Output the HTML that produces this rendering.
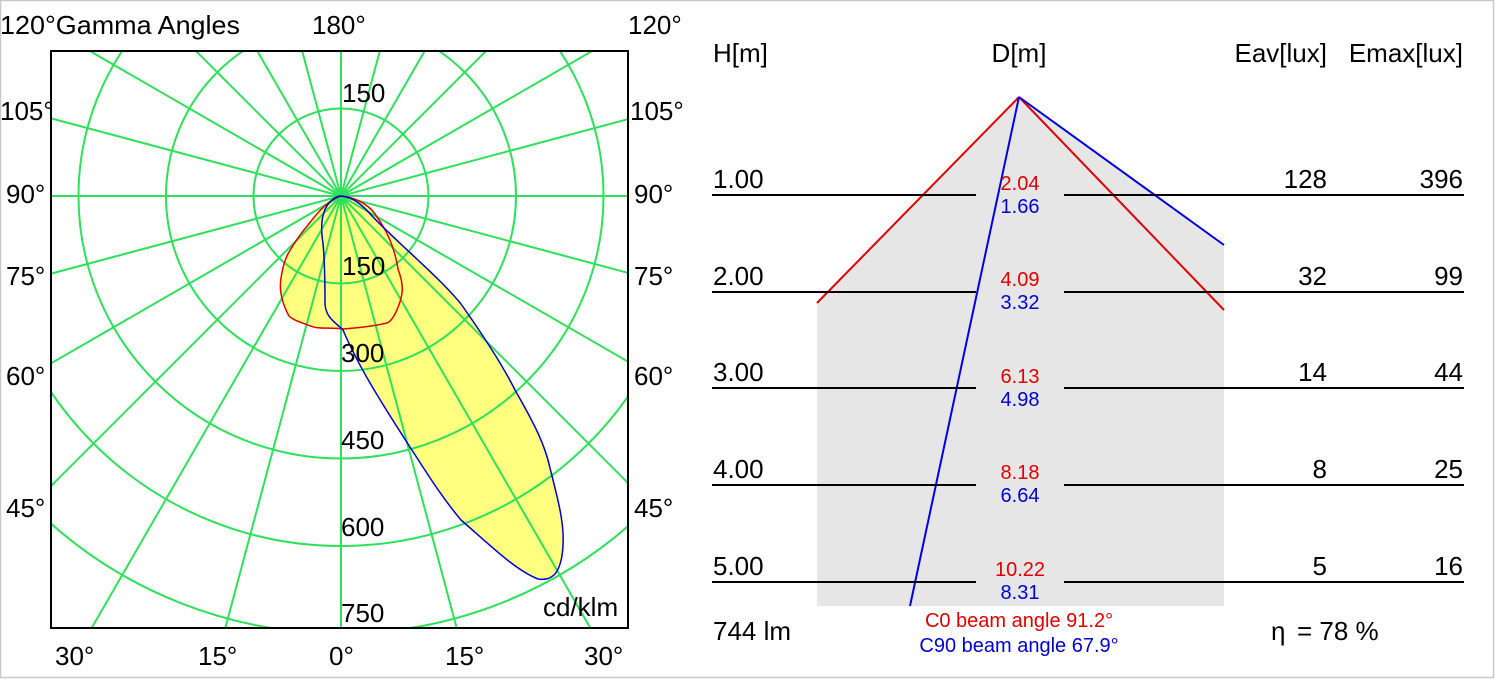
<!DOCTYPE html>
<html><head><meta charset="utf-8"><style>
html,body{margin:0;padding:0;background:#fff;overflow:hidden;width:1496px;height:680px}
svg{display:block}
text{font-family:"Liberation Sans",Arial,sans-serif}
</style></head><body>
<svg width="1496" height="680" viewBox="0 0 1496 680" xmlns="http://www.w3.org/2000/svg">
<rect x="0.5" y="0.5" width="1493" height="677" fill="#fff" stroke="#c8c8c8" stroke-width="1.5"/>
<defs><clipPath id="c"><rect x="51" y="51" width="577" height="577"/></clipPath></defs>
<g clip-path="url(#c)">
<path d="M341,196 C360,198 372,208 377,217 C388,232 395,250 398,269 C404,285 404,295 396,312 C393,318 390,322 387,323 C370,327 355,328 343,329 C330,327 318,330 308,325 C300,322 293,320 289,316 C282,303 279,290 281,278 C283,265 286,257 289,252 C296,240 302,232 308,225 C318,212 328,200 341,196 Z" fill="#ffff80"/>
<path d="M341,196 C355,197 365,208 373,217 C400,245 440,278 461,304 C490,345 505,370 515,390 C535,425 545,445 550,468 C558,500 562,515 563,533 C564,555 560,568 555,574 C550,579 545,580 538,579 C515,570 490,545 461,520 C440,495 425,470 408,444 C385,408 360,370 343,330 C335,322 326,318 325,304 C325,285 325,265 323,243 C320,225 322,210 330,202 C334,198 337,196 341,196 Z" fill="#ffff80"/>
<g stroke="#2ee05a" stroke-width="2" fill="none">
<circle cx="341" cy="196" r="87.5"/><circle cx="341" cy="196" r="175"/><circle cx="341" cy="196" r="262.5"/>
<circle cx="341" cy="196" r="350"/><circle cx="341" cy="196" r="437.5"/><circle cx="341" cy="196" r="525"/>
<circle cx="341" cy="196" r="612.5"/><circle cx="341" cy="196" r="700"/>
<line x1="-459" y1="196" x2="1141" y2="196"/>
<line x1="341" y1="-604" x2="341" y2="996"/>
<line x1="-432" y1="-11" x2="1114" y2="403"/>
<line x1="-432" y1="403" x2="1114" y2="-11"/>
<line x1="-352" y1="-204" x2="1034" y2="596"/>
<line x1="-352" y1="596" x2="1034" y2="-204"/>
<line x1="-225" y1="-370" x2="907" y2="762"/>
<line x1="-225" y1="762" x2="907" y2="-370"/>
<line x1="-59" y1="-497" x2="741" y2="889"/>
<line x1="-59" y1="889" x2="741" y2="-497"/>
<line x1="134" y1="-577" x2="548" y2="969"/>
<line x1="134" y1="969" x2="548" y2="-577"/>
</g>
<path d="M341,196 C360,198 372,208 377,217 C388,232 395,250 398,269 C404,285 404,295 396,312 C393,318 390,322 387,323 C370,327 355,328 343,329 C330,327 318,330 308,325 C300,322 293,320 289,316 C282,303 279,290 281,278 C283,265 286,257 289,252 C296,240 302,232 308,225 C318,212 328,200 341,196 Z" fill="none" stroke="#e00000" stroke-width="1.5"/>
<path d="M341,196 C355,197 365,208 373,217 C400,245 440,278 461,304 C490,345 505,370 515,390 C535,425 545,445 550,468 C558,500 562,515 563,533 C564,555 560,568 555,574 C550,579 545,580 538,579 C515,570 490,545 461,520 C440,495 425,470 408,444 C385,408 360,370 343,330 C335,322 326,318 325,304 C325,285 325,265 323,243 C320,225 322,210 330,202 C334,198 337,196 341,196 Z" fill="none" stroke="#0000d0" stroke-width="1.5"/>
</g>
<rect x="51" y="51" width="577" height="577" fill="none" stroke="#000" stroke-width="2"/>
<g font-size="26" fill="#000">
<text x="0" y="34" textLength="240" lengthAdjust="spacingAndGlyphs">120°Gamma Angles</text>
<text x="312" y="34">180°</text>
<text x="628" y="34">120°</text>
<text x="0" y="120">105°</text><text x="630" y="120">105°</text>
<text x="6" y="203">90°</text><text x="634" y="203">90°</text>
<text x="6" y="285">75°</text><text x="634" y="285">75°</text>
<text x="6" y="385">60°</text><text x="634" y="385">60°</text>
<text x="6" y="517">45°</text><text x="634" y="517">45°</text>
<text x="55" y="665">30°</text><text x="198" y="665">15°</text><text x="329" y="665">0°</text>
<text x="445" y="665">15°</text><text x="584" y="665">30°</text>
<text x="342" y="102">150</text>
<text x="342" y="275">150</text>
<text x="341" y="362">300</text>
<text x="341" y="449">450</text>
<text x="341" y="536">600</text>
<text x="341" y="622">750</text>
<text x="543" y="616">cd/klm</text>
</g>
<polygon points="817,303 1019,97 1224,245 1224,606 817,606" fill="#e6e6e6"/>
<line x1="1019" y1="97" x2="817" y2="303" stroke="#e00000" stroke-width="2"/>
<line x1="1019" y1="97" x2="1224" y2="310" stroke="#e00000" stroke-width="2"/>
<line x1="1019" y1="97" x2="1224" y2="245" stroke="#0000e0" stroke-width="2"/>
<line x1="1019" y1="97" x2="910" y2="606" stroke="#0000e0" stroke-width="2"/>
<g stroke="#000" stroke-width="2">
<line x1="712" y1="195" x2="976" y2="195"/><line x1="1064" y1="195" x2="1464" y2="195"/>
<line x1="712" y1="292" x2="976" y2="292"/><line x1="1064" y1="292" x2="1464" y2="292"/>
<line x1="712" y1="388" x2="976" y2="388"/><line x1="1064" y1="388" x2="1464" y2="388"/>
<line x1="712" y1="485" x2="976" y2="485"/><line x1="1064" y1="485" x2="1464" y2="485"/>
<line x1="712" y1="582" x2="976" y2="582"/><line x1="1064" y1="582" x2="1464" y2="582"/>
</g>
<g font-size="26" fill="#000">
<text x="713" y="62">H[m]</text>
<text x="1019" y="62" text-anchor="middle">D[m]</text>
<text x="1327" y="62" text-anchor="end">Eav[lux]</text>
<text x="1463" y="62" text-anchor="end">Emax[lux]</text>
<text x="713" y="188">1.00</text><text x="713" y="285">2.00</text><text x="713" y="381">3.00</text><text x="713" y="478">4.00</text><text x="713" y="575">5.00</text>
<g text-anchor="end">
<text x="1327" y="188">128</text><text x="1463" y="188">396</text>
<text x="1327" y="285">32</text><text x="1463" y="285">99</text>
<text x="1327" y="381">14</text><text x="1463" y="381">44</text>
<text x="1327" y="478">8</text><text x="1463" y="478">25</text>
<text x="1327" y="575">5</text><text x="1463" y="575">16</text>
</g>
<text x="713" y="640">744 lm</text>
<text x="1271" y="640">η</text><text x="1297" y="640">= 78 %</text>
</g>
<g font-size="20" text-anchor="middle">
<g fill="#e00000"><text x="1020" y="190">2.04</text><text x="1020" y="286">4.09</text><text x="1020" y="383">6.13</text><text x="1020" y="479">8.18</text><text x="1020" y="576">10.22</text>
<text x="1019" y="627">C0  beam angle 91.2°</text></g>
<g fill="#0000d0"><text x="1020" y="213">1.66</text><text x="1020" y="309">3.32</text><text x="1020" y="406">4.98</text><text x="1020" y="502">6.64</text><text x="1020" y="599">8.31</text>
<text x="1019" y="652">C90 beam angle 67.9°</text></g>
</g>
</svg>
</body></html>
